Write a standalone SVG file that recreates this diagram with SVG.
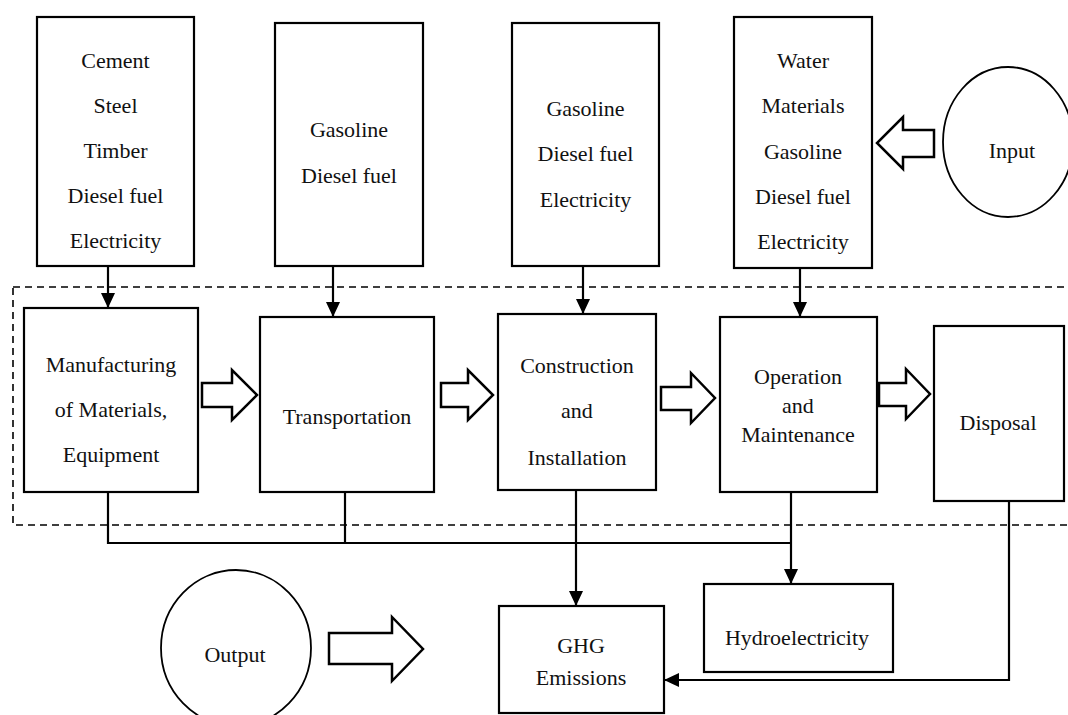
<svg xmlns="http://www.w3.org/2000/svg" width="1068" height="715" viewBox="0 0 1068 715">
<style>
  .box { fill: #fff; stroke: #000; stroke-width: 2.2; }
  .ell { fill: #fff; stroke: #000; stroke-width: 1.8; }
  .hollow { fill: #fff; stroke: #000; stroke-width: 2.5; stroke-linejoin: miter; }
  .conn { fill: none; stroke: #000; stroke-width: 2.2; }
  .dash { fill: none; stroke: #000; stroke-width: 1.6; stroke-dasharray: 7 5; }
  text { font-family: "Liberation Serif", "Times New Roman", serif; font-size: 22px; fill: #111; text-anchor: middle; }
</style>
<defs>
  <marker id="ah" viewBox="0 0 15 14" refX="15" refY="7" markerWidth="15" markerHeight="14" markerUnits="userSpaceOnUse" orient="auto">
    <path d="M0,0 L15,7 L0,14 z" fill="#000"/>
  </marker>
</defs>
<rect width="1068" height="715" fill="#fff"/>

<rect id="boundary" class="dash" x="13" y="287" width="1062" height="238"/>

<g id="input-mfg">
  <rect class="box" x="37" y="17" width="157" height="249"/>
  <text x="115.5" y="68">Cement</text>
  <text x="115.5" y="113">Steel</text>
  <text x="115.5" y="158">Timber</text>
  <text x="115.5" y="203">Diesel fuel</text>
  <text x="115.5" y="248">Electricity</text>
</g>
<g id="input-transport">
  <rect class="box" x="275" y="23" width="148" height="243"/>
  <text x="349" y="137">Gasoline</text>
  <text x="349" y="183">Diesel fuel</text>
</g>
<g id="input-construction">
  <rect class="box" x="512" y="23" width="147" height="243"/>
  <text x="585.5" y="116">Gasoline</text>
  <text x="585.5" y="161">Diesel fuel</text>
  <text x="585.5" y="207">Electricity</text>
</g>
<g id="input-operation">
  <rect class="box" x="734" y="17" width="138" height="251"/>
  <text x="803" y="68">Water</text>
  <text x="803" y="113">Materials</text>
  <text x="803" y="159">Gasoline</text>
  <text x="803" y="204">Diesel fuel</text>
  <text x="803" y="249">Electricity</text>
</g>
<g id="input">
  <ellipse class="ell" cx="1008" cy="142" rx="65" ry="75"/>
  <text x="1012" y="158">Input</text>
</g>

<g id="manufacturing">
  <rect class="box" x="24" y="308" width="174" height="184"/>
  <text x="111" y="372">Manufacturing</text>
  <text x="111" y="417">of Materials,</text>
  <text x="111" y="462">Equipment</text>
</g>
<g id="transportation">
  <rect class="box" x="260" y="317" width="174" height="175"/>
  <text x="347" y="424">Transportation</text>
</g>
<g id="construction">
  <rect class="box" x="498" y="314" width="158" height="176"/>
  <text x="577" y="373">Construction</text>
  <text x="577" y="418">and</text>
  <text x="577" y="465">Installation</text>
</g>
<g id="operation">
  <rect class="box" x="720" y="317" width="157" height="175"/>
  <text x="798" y="384">Operation</text>
  <text x="798" y="413">and</text>
  <text x="798" y="442">Maintenance</text>
</g>
<g id="disposal">
  <rect class="box" x="934" y="326" width="130" height="175"/>
  <text x="998" y="430">Disposal</text>
</g>

<g id="output">
  <ellipse class="ell" cx="236" cy="648" rx="75" ry="78"/>
  <text x="235" y="662">Output</text>
</g>
<g id="ghg">
  <rect class="box" x="499" y="606" width="165" height="107"/>
  <text x="581" y="653">GHG</text>
  <text x="581" y="685">Emissions</text>
</g>
<g id="hydro">
  <rect class="box" x="704" y="584" width="189" height="88"/>
  <text x="797" y="645">Hydroelectricity</text>
</g>

<g id="connectors">
  <line class="conn" x1="108" y1="266" x2="108" y2="308" marker-end="url(#ah)"/>
  <line class="conn" x1="333" y1="266" x2="333" y2="317" marker-end="url(#ah)"/>
  <line class="conn" x1="583" y1="266" x2="583" y2="314" marker-end="url(#ah)"/>
  <line class="conn" x1="800" y1="268" x2="800" y2="317" marker-end="url(#ah)"/>

  <polyline class="conn" points="108,492 108,543 791,543"/>
  <line class="conn" x1="345" y1="492" x2="345" y2="543"/>
  <line class="conn" x1="576" y1="490" x2="576" y2="606" marker-end="url(#ah)"/>
  <line class="conn" x1="791" y1="492" x2="791" y2="584" marker-end="url(#ah)"/>
  <polyline class="conn" points="1009,501 1009,680 664,680" marker-end="url(#ah)"/>

  <polygon class="hollow" points="202,383 232,383 232,370 257,395 232,420 232,407 202,407"/>
  <polygon class="hollow" points="441,383 468,383 468,370 493,395 468,420 468,407 441,407"/>
  <polygon class="hollow" points="661,387 691,387 691,373 715,398 691,423 691,410 661,410"/>
  <polygon class="hollow" points="879,383 906,383 906,369 930,394 906,419 906,406 879,406"/>
  <polygon class="hollow" points="934,130 903,130 903,117 877,143 903,169 903,157 934,157"/>
  <polygon class="hollow" points="329,633 392,633 392,617 423,649 392,681 392,664 329,664"/>
</g>
</svg>
